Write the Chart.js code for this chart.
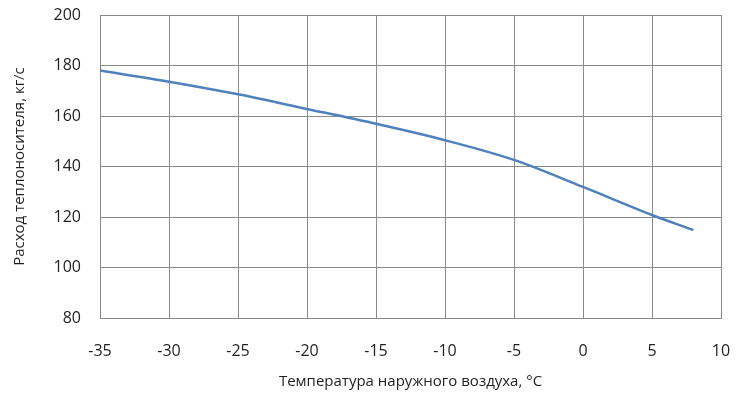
<!DOCTYPE html>
<html lang="ru">
<head>
    <meta charset="UTF-8">
    <title>Расход теплоносителя</title>
    <script src="https://cdn.jsdelivr.net/npm/chart.js"></script>
    <style>
        html, body { margin: 0; padding: 0; background: #fff; }
        #wrap { width: 739px; height: 408px; }
    </style>
</head>
<body>
    <div id="wrap"><canvas id="chart"></canvas></div>
    <script>
        // outdoor temperature, °C
        const temps = [-35, -30, -25, -20, -15, -10, -5, 0, 5, 8];
        // coolant flow, kg/s
        const flows = [178, 173.6, 168.6, 162.8, 156.9, 150.4, 142.6, 131.9, 120.8, 114.8];

        const xTicks = [-35, -30, -25, -20, -15, -10, -5, 0, 5, 10];
        const yTicks = [80, 100, 120, 140, 160, 180, 200];

        const fontFamily = "'Open Sans', sans-serif";
        const textColor = '#1f1f1f';
        const gridColor = '#8a8a8a';

        // stop the scales from pushing the plot area in for overhanging labels
        function noOverhang(s) {
            s.paddingTop = 0;
            s.paddingBottom = 0;
            s.paddingLeft = 0;
            s.paddingRight = 0;
        }

        const ctx = document.getElementById('chart').getContext('2d');
        new Chart(ctx, {
            type: 'line',
            data: {
                datasets: [{
                    data: temps.map((t, i) => ({ x: t, y: flows[i] })),
                    borderColor: '#4f81bd',
                    borderWidth: 2.5,
                    pointRadius: 0,
                    cubicInterpolationMode: 'monotone',
                    fill: false
                }]
            },
            options: {
                responsive: true,
                maintainAspectRatio: false,
                animation: false,
                layout: { padding: { top: 15, right: 18, left: 0, bottom: 0 } },
                plugins: { legend: { display: false }, tooltip: { enabled: false } },
                scales: {
                    x: {
                        type: 'linear',
                        min: xTicks[0],
                        max: xTicks[xTicks.length - 1],
                        afterBuildTicks: s => { s.ticks = xTicks.map(v => ({ value: v })); },
                        afterFit: s => { s.height = 90; noOverhang(s); },
                        grid: { color: gridColor, drawTicks: false },
                        border: { color: gridColor },
                        ticks: { padding: 24, color: textColor, font: { family: fontFamily, size: 16 } },
                        title: {
                            display: true,
                            text: 'Температура наружного воздуха, °С',
                            color: textColor,
                            font: { family: fontFamily, size: 15 },
                            padding: { top: 4, bottom: 17 }
                        }
                    },
                    y: {
                        min: yTicks[0],
                        max: yTicks[yTicks.length - 1],
                        afterBuildTicks: s => { s.ticks = yTicks.map(v => ({ value: v })); },
                        afterFit: s => { s.width = 100; noOverhang(s); },
                        grid: { color: gridColor, drawTicks: false },
                        border: { color: gridColor },
                        ticks: { padding: 19, color: textColor, font: { family: fontFamily, size: 16 } },
                        title: {
                            display: true,
                            text: 'Расход теплоносителя, кг/с',
                            color: textColor,
                            font: { family: fontFamily, size: 15 },
                            padding: { top: 11, bottom: 4 }
                        }
                    }
                }
            }
        });
    </script>
</body>
</html>
